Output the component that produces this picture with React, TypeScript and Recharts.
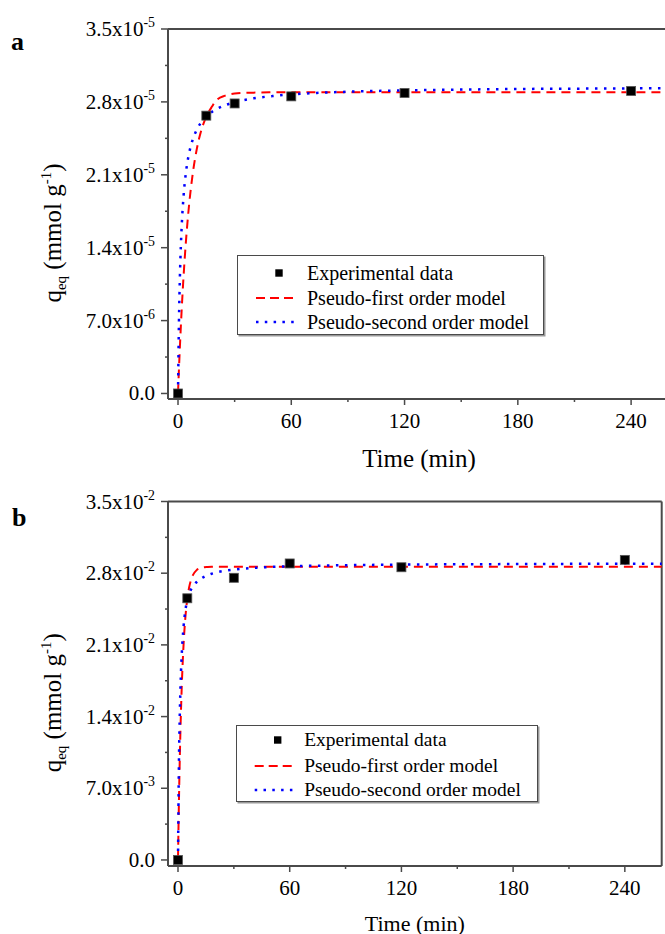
import React from 'react';
import { ComposedChart, Line, Scatter, XAxis, YAxis, ReferenceLine, Legend, Label } from 'recharts';

const FONT = '"Liberation Serif", "Times New Roman", Times, serif';
const AXIS = '#4a4a4a';
const RED = '#ff0000';
const BLUE = '#0000ff';
const INK = '#000';

// ---------- data (panel a: q in units of 1e-5 mmol/g) ----------
const timeExpA = [0, 15, 30, 60, 120, 240];
const qExpA = [0, 2.668, 2.785, 2.853, 2.886, 2.905];

const modelTime = [0, 0.5, 1, 1.5, 2, 3, 4, 5, 6, 7, 8, 10, 12, 14, 16, 18, 20, 25, 30, 40, 50, 60, 80, 100, 120, 150, 180, 210, 240, 262];
const qPFOA = [0, 0.233, 0.446, 0.643, 0.824, 1.143, 1.413, 1.641, 1.835, 1.998, 2.136, 2.352, 2.506, 2.616, 2.695, 2.755, 2.81, 2.86, 2.88, 2.889, 2.892, 2.893, 2.893, 2.893, 2.893, 2.893, 2.893, 2.893, 2.893, 2.893];
const qPSOA = [0, 0.69, 1.119, 1.411, 1.622, 1.909, 2.093, 2.223, 2.318, 2.391, 2.449, 2.535, 2.596, 2.641, 2.676, 2.704, 2.727, 2.769, 2.797, 2.834, 2.856, 2.872, 2.891, 2.903, 2.91, 2.918, 2.924, 2.927, 2.93, 2.932];

// ---------- data (panel b: q in units of 1e-2 mmol/g) ----------
const timeExpB = [0, 5, 30, 60, 120, 240];
const qExpB = [0, 2.555, 2.755, 2.895, 2.858, 2.93];
const qPFOB = [0, 0.569, 1.025, 1.39, 1.683, 2.106, 2.377, 2.551, 2.663, 2.735, 2.781, 2.83, 2.85, 2.858, 2.861, 2.863, 2.864, 2.864, 2.864, 2.864, 2.864, 2.864, 2.864, 2.864, 2.864, 2.864, 2.864, 2.864, 2.864, 2.864];
const qPSOB = [0, 0.95, 1.45, 1.78, 2.0, 2.28, 2.44, 2.54, 2.6, 2.642, 2.671, 2.714, 2.743, 2.765, 2.781, 2.794, 2.804, 2.823, 2.835, 2.851, 2.861, 2.867, 2.875, 2.88, 2.884, 2.887, 2.889, 2.891, 2.892, 2.892];

// ---------- ticks ----------
const xTicks = [0, 30, 60, 90, 120, 150, 180, 210, 240];
const xMajor = [0, 60, 120, 180, 240];
const yTicks = [0, 0.35, 0.7, 1.05, 1.4, 1.75, 2.1, 2.45, 2.8, 3.15, 3.5];
const yMajorVals = [0, 0.7, 1.4, 2.1, 2.8, 3.5];
const yMantA = ['0.0', '7.0x10', '1.4x10', '2.1x10', '2.8x10', '3.5x10'];
const yExpA = ['', '-6', '-5', '-5', '-5', '-5'];
const yMantB = ['0.0', '7.0x10', '1.4x10', '2.1x10', '2.8x10', '3.5x10'];
const yExpB = ['', '-3', '-2', '-2', '-2', '-2'];

const legendNames = ['Experimental data', 'Pseudo-first order model', 'Pseudo-second order model'];

const toPts = (ts: number[], qs: number[]) => ts.map((t, i) => ({ t, q: qs[i] }));

const near = (a: number, b: number) => Math.abs(a - b) < 1e-6;

const makeYTick = (mant: string[], exps: string[], fs: number) => (props: any) => {
  const { x, y, payload } = props;
  const idx = yMajorVals.findIndex((v) => near(v, payload.value));
  const major = idx >= 0;
  const len = major ? 7 : 3;
  return (
    <g>
      <line x1={x - len} x2={x} y1={y} y2={y} stroke={AXIS} strokeWidth={1.5} />
      {major && (
        <text x={x - 13} y={y + 7} textAnchor="end" fontFamily={FONT} fontSize={fs} fill={INK}>
          {mant[idx]}
          {exps[idx] ? (
            <tspan dy={-9} fontSize={fs * 0.66}>
              {exps[idx]}
            </tspan>
          ) : null}
        </text>
      )}
    </g>
  );
};

const makeXTick = (fs: number, dy: number) => (props: any) => {
  const { x, y, payload } = props;
  const major = xMajor.some((v) => near(v, payload.value));
  const len = major ? 6 : 3;
  return (
    <g>
      <line x1={x} x2={x} y1={y} y2={y + len} stroke={AXIS} strokeWidth={1.5} />
      {major && (
        <text x={x} y={y + dy} textAnchor="middle" fontFamily={FONT} fontSize={fs} fill={INK}>
          {payload.value}
        </text>
      )}
    </g>
  );
};

const Square = (props: any) => {
  const { cx, cy } = props;
  if (cx == null || cy == null) return null;
  return <rect x={cx - 4.5} y={cy - 4.5} width={9} height={9} fill="#000" stroke="#555" strokeWidth={0.8} />;
};

const makeLegend = (w: number, h: number, rows: number[], textLeft: number, symCx: number, fs: number) => () => (
  <div
    style={{
      position: 'relative',
      width: w,
      height: h,
      boxSizing: 'border-box',
      border: `1.5px solid ${AXIS}`,
      boxShadow: '1.5px 1.5px 0 #999',
      background: '#fff',
      fontFamily: FONT,
      fontSize: fs,
      color: INK,
    }}
  >
    {legendNames.map((name, i) => (
      <div key={name} style={{ position: 'absolute', left: 0, top: rows[i] - 12, height: 24, width: w - 4 }}>
        <svg width={textLeft} height={24} style={{ position: 'absolute', left: 0, top: 0 }}>
          {i === 0 && <rect x={symCx - 3.7} y={8.3} width={7.4} height={7.4} fill="#000" />}
          {i === 1 && (
            <line x1={symCx - 23} x2={symCx + 19} y1={12} y2={12} stroke={RED} strokeWidth={2} strokeDasharray="9 5" />
          )}
          {i === 2 && (
            <line x1={symCx - 23} x2={symCx + 19} y1={12} y2={12} stroke={BLUE} strokeWidth={2.5} strokeDasharray="2.5 6.3" />
          )}
        </svg>
        <span style={{ position: 'absolute', left: textLeft, top: 0, lineHeight: '24px', whiteSpace: 'nowrap' }}>{name}</span>
      </div>
    ))}
  </div>
);

const YTitle = (shift: number, fs: number, xBase: number) => (props: any) => {
  const vb = props.viewBox;
  const cy = vb.y + vb.height / 2 + shift;
  return (
    <text transform={`rotate(-90, ${xBase}, ${cy})`} x={xBase} y={cy} textAnchor="middle" fontFamily={FONT} fontSize={fs} fill={INK}>
      q
      <tspan dy={5} fontSize={fs * 0.6}>eq</tspan>
      <tspan dy={-5}> (mmol g</tspan>
      <tspan dy={-10} fontSize={fs * 0.6}>-1</tspan>
      <tspan dy={10}>)</tspan>
    </text>
  );
};

const XTitle = (off: number, fs: number) => (props: any) => {
  const vb = props.viewBox;
  return (
    <text x={vb.x + vb.width / 2} y={vb.y + off} textAnchor="middle" fontFamily={FONT} fontSize={fs} fill={INK}>
      Time (min)
    </text>
  );
};

type PanelProps = {
  width: number;
  height: number;
  marginTop: number;
  marginRight: number;
  xAxisH: number;
  xDomain: [number, number];
  yDomain: [number, number];
  exp: { t: number; q: number }[];
  pfo: { t: number; q: number }[];
  pso: { t: number; q: number }[];
  mant: string[];
  exps: string[];
  legend: any;
  legendPos: { left: number; top: number };
  xTitleOff: number;
  xTitleFs: number;
  yTitleShift: number;
  tickFs: number;
  frameRight: boolean;
};

const Panel = (p: PanelProps) => (
  <ComposedChart
    width={p.width}
    height={p.height}
    margin={{ top: p.marginTop, right: p.marginRight, bottom: 0, left: 0 }}
  >
    <XAxis
      type="number"
      dataKey="t"
      domain={p.xDomain}
      allowDataOverflow
      ticks={xTicks}
      interval={0}
      tickSize={0}
      tickMargin={0}
      tickLine={false}
      height={p.xAxisH}
      axisLine={{ stroke: AXIS, strokeWidth: 2 }}
      tick={makeXTick(p.tickFs, 29)}
    >
      <Label content={XTitle(p.xTitleOff, p.xTitleFs)} />
    </XAxis>
    <YAxis
      type="number"
      domain={p.yDomain}
      allowDataOverflow
      ticks={yTicks}
      interval={0}
      tickSize={0}
      tickMargin={0}
      tickLine={false}
      width={168}
      axisLine={{ stroke: AXIS, strokeWidth: 2 }}
      tick={makeYTick(p.mant, p.exps, p.tickFs)}
    >
      <Label content={YTitle(p.yTitleShift, 25, 61)} />
    </YAxis>
    <ReferenceLine y={3.5} stroke={AXIS} strokeWidth={2} />
    {p.frameRight && <ReferenceLine x={p.xDomain[1]} stroke={AXIS} strokeWidth={2} />}
    <Scatter data={p.exp} dataKey="q" shape={<Square />} isAnimationActive={false} />
    <Line data={p.pfo} dataKey="q" type="monotone" stroke={RED} strokeWidth={2} strokeDasharray="9 6" dot={false} isAnimationActive={false} />
    <Line data={p.pso} dataKey="q" type="monotone" stroke={BLUE} strokeWidth={2.5} strokeDasharray="2.5 6.5" dot={false} isAnimationActive={false} />
    <Legend
      layout="vertical"
      align="center"
      verticalAlign="middle"
      content={p.legend}
      wrapperStyle={{ left: p.legendPos.left, top: p.legendPos.top, width: 'auto', height: 'auto' }}
    />
  </ComposedChart>
);

export default function App() {
  return (
    <div style={{ position: 'absolute', left: 0, top: 0, width: 665, height: 934, overflow: 'hidden', background: '#fff' }}>
      <div style={{ position: 'absolute', left: 0, top: 0 }}>
        <Panel
          width={670}
          height={480}
          marginTop={29}
          marginRight={0}
          xAxisH={81}
          xDomain={[-5.3, 260.6]}
          yDomain={[-0.053, 3.5]}
          exp={toPts(timeExpA, qExpA)}
          pfo={toPts(modelTime, qPFOA)}
          pso={toPts(modelTime, qPSOA)}
          mant={yMantA}
          exps={yExpA}
          legend={makeLegend(307, 80, [16.7, 41.7, 65.7], 69, 41, 20)}
          legendPos={{ left: 237, top: 255 }}
          xTitleOff={68}
          xTitleFs={25}
          yTitleShift={19}
          tickFs={21}
          frameRight={false}
        />
      </div>
      <div style={{ position: 'absolute', left: 0, top: 480 }}>
        <Panel
          width={665}
          height={454}
          marginTop={21.5}
          marginRight={3.3}
          xAxisH={68}
          xDomain={[-5.37, 259.8]}
          yDomain={[-0.059, 3.5]}
          exp={toPts(timeExpB, qExpB)}
          pfo={toPts(modelTime, qPFOB)}
          pso={toPts(modelTime, qPSOB)}
          mant={yMantB}
          exps={yExpB}
          legend={makeLegend(302, 77, [14.3, 39.7, 64.3], 67.6, 40.7, 19.5)}
          legendPos={{ left: 235.6, top: 245 }}
          xTitleOff={64.5}
          xTitleFs={22}
          yTitleShift={19}
          tickFs={21}
          frameRight={true}
        />
      </div>
      <svg width={60} height={934} style={{ position: 'absolute', left: 0, top: 0, pointerEvents: 'none' }}>
        <text x={11} y={50} fontFamily={FONT} fontWeight="bold" fontSize={26} fill="#000">a</text>
        <text x={12} y={526} fontFamily={FONT} fontWeight="bold" fontSize={26} fill="#000">b</text>
      </svg>
    </div>
  );
}
